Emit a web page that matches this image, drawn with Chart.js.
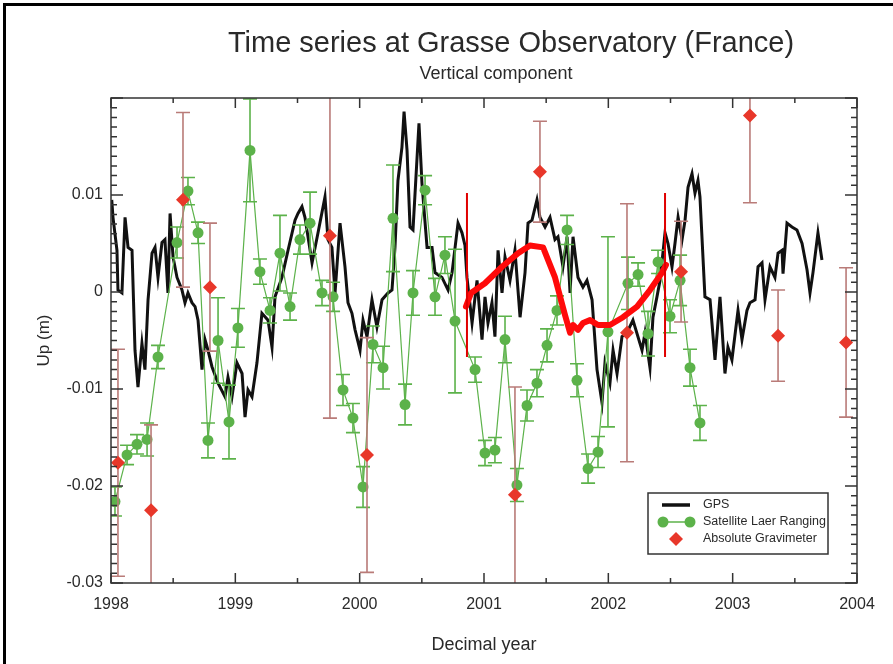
<!DOCTYPE html>
<html lang="en">
<head>
<meta charset="UTF-8">
<title>Time series at Grasse Observatory (France)</title>
<script src="https://cdn.jsdelivr.net/npm/chart.js"></script>
<style>
  html, body { margin: 0; padding: 0; background: #fff; }
  canvas { display: block; }
</style>
</head>
<body>
<canvas id="chart" width="893" height="664"></canvas>
<script>
// GPS vertical position (m) vs decimal year
const gpsYear = [
  1998.006, 1998.016, 1998.048, 1998.056, 1998.088, 1998.113, 1998.137, 1998.169, 1998.193, 1998.217,
  1998.249, 1998.273, 1998.298, 1998.330, 1998.354, 1998.378, 1998.410, 1998.434, 1998.458, 1998.475,
  1998.499, 1998.531, 1998.571, 1998.595, 1998.619, 1998.651, 1998.676, 1998.700, 1998.732, 1998.756,
  1998.780, 1998.812, 1998.861, 1998.917, 1998.941, 1998.973, 1999.013, 1999.054, 1999.078, 1999.102,
  1999.134, 1999.174, 1999.214, 1999.263, 1999.295, 1999.319, 1999.375, 1999.424, 1999.480, 1999.504,
  1999.536, 1999.560, 1999.617, 1999.665, 1999.721, 1999.745, 1999.777, 1999.802, 1999.842, 1999.882,
  1999.906, 1999.938, 1999.963, 2000.003, 2000.027, 2000.059, 2000.099, 2000.139, 2000.180, 2000.228,
  2000.260, 2000.284, 2000.308, 2000.340, 2000.357, 2000.381, 2000.405, 2000.429, 2000.477, 2000.501,
  2000.542, 2000.582, 2000.606, 2000.662, 2000.711, 2000.743, 2000.791, 2000.823, 2000.847, 2000.863,
  2000.904, 2000.944, 2000.984, 2001.008, 2001.032, 2001.064, 2001.088, 2001.113, 2001.145, 2001.169,
  2001.209, 2001.249, 2001.290, 2001.330, 2001.354, 2001.386, 2001.426, 2001.450, 2001.491, 2001.531,
  2001.571, 2001.595, 2001.635, 2001.668, 2001.692, 2001.716, 2001.756, 2001.796, 2001.828, 2001.869,
  2001.909, 2001.949, 2001.973, 2002.013, 2002.038, 2002.070, 2002.110, 2002.150, 2002.198, 2002.271,
  2002.295, 2002.335, 2002.359, 2002.391, 2002.416, 2002.456, 2002.480, 2002.512, 2002.536, 2002.561,
  2002.593, 2002.617, 2002.641, 2002.673, 2002.697, 2002.721, 2002.737, 2002.777, 2002.818, 2002.858,
  2002.898, 2002.938, 2002.962, 2002.994, 2003.043, 2003.075, 2003.115, 2003.139, 2003.180, 2003.204,
  2003.236, 2003.260, 2003.300, 2003.340, 2003.365, 2003.397, 2003.405, 2003.437, 2003.477, 2003.517,
  2003.558, 2003.598, 2003.622, 2003.646, 2003.686, 2003.718
];
const gpsUp = [
  0.0095, 0.0077, 0.0043, 0.0002, -0.0001, 0.0077, 0.0046, 0.0043, -0.0060, -0.0098,
  -0.0053, -0.0080, -0.0008, 0.0040, 0.0046, 0.0015, 0.0051, 0.0054, -0.0001, 0.0081,
  0.0036, 0.0015, 0.0002, -0.0011, -0.0001, -0.0011, -0.0015, -0.0029, -0.0080, -0.0049,
  -0.0060, -0.0077, -0.0094, -0.0108, -0.0088, -0.0108, -0.0073, -0.0084, -0.0129, -0.0101,
  -0.0108, -0.0073, -0.0022, -0.0029, -0.0057, -0.0005, 0.0015, 0.0043, 0.0074, 0.0081,
  0.0088, 0.0077, 0.0030, 0.0061, 0.0098, 0.0054, 0.0046, -0.0001, 0.0071, 0.0026,
  -0.0011, -0.0022, -0.0039, -0.0060, -0.0029, -0.0046, -0.0008, -0.0036, -0.0008, -0.0001,
  0.0002, 0.0046, 0.0115, 0.0149, 0.0186, 0.0146, 0.0067, 0.0064, 0.0174, 0.0112,
  0.0046, 0.0046, 0.0020, 0.0015, 0.0002, 0.0020, 0.0071, 0.0061, 0.0048, 0.0015,
  -0.0032, 0.0012, -0.0049, -0.0005, -0.0032, -0.0011, -0.0046, 0.0043, -0.0001, 0.0036,
  0.0012, 0.0043, -0.0026, 0.0020, 0.0071, 0.0074, 0.0095, 0.0077, 0.0067, 0.0077,
  0.0054, 0.0057, 0.0026, 0.0057, -0.0001, 0.0057, 0.0015, 0.0005, 0.0012, -0.0008,
  -0.0080, -0.0114, -0.0073, -0.0094, -0.0060, -0.0084, -0.0046, -0.0042, -0.0029, -0.0060,
  -0.0042, -0.0078, -0.0026, -0.0005, 0.0012, 0.0061, 0.0050, 0.0026, 0.0050, 0.0077,
  0.0054, 0.0074, 0.0108, 0.0122, 0.0102, 0.0115, 0.0098, -0.0005, -0.0008, -0.0070,
  -0.0005, -0.0084, -0.0057, -0.0070, -0.0019, -0.0049, -0.0019, -0.0011, -0.0008, 0.0026,
  0.0030, -0.0008, 0.0026, 0.0015, 0.0040, 0.0043, 0.0019, 0.0071, 0.0067, 0.0064,
  0.0050, 0.0023, -0.0001, 0.0020, 0.0061, 0.0033
];

// Satellite Laser Ranging
const slrYear = [
  1998.032, 1998.129, 1998.209, 1998.290, 1998.378, 1998.531, 1998.619, 1998.700, 1998.780, 1998.861,
  1998.949, 1999.021, 1999.118, 1999.198, 1999.279, 1999.359, 1999.440, 1999.520, 1999.601, 1999.697,
  1999.786, 1999.866, 1999.946, 2000.027, 2000.107, 2000.188, 2000.268, 2000.365, 2000.429, 2000.526,
  2000.606, 2000.686, 2000.767, 2000.928, 2001.008, 2001.088, 2001.169, 2001.265, 2001.346, 2001.426,
  2001.507, 2001.587, 2001.668, 2001.748, 2001.837, 2001.917, 2001.997, 2002.158, 2002.239, 2002.319,
  2002.400, 2002.496, 2002.577, 2002.657, 2002.737
];
const slrUp = [
  -0.0216, -0.0168, -0.0157, -0.0152, -0.0067, 0.0051, 0.0104, 0.0061, -0.0153, -0.0050,
  -0.0134, -0.0037, 0.0146, 0.0021, -0.0019, 0.0040, -0.0015, 0.0054, 0.0071, -0.0001,
  -0.0005, -0.0101, -0.0130, -0.0201, -0.0054, -0.0078, 0.0076, -0.0116, -0.0001, 0.0105,
  -0.0005, 0.0038, -0.0030, -0.0080, -0.0166, -0.0163, -0.0049, -0.0199, -0.0117, -0.0094,
  -0.0055, -0.0019, 0.0064, -0.0091, -0.0182, -0.0165, -0.0041, 0.0009, 0.0018, -0.0043,
  0.0031, -0.0025, 0.0012, -0.0078, -0.0135
];
const slrErr = [
  0.0015, 0.0010, 0.0010, 0.0017, 0.0012, 0.0016, 0.0014, 0.0011, 0.0018, 0.0044,
  0.0038, 0.0020, 0.0053, 0.0013, 0.0013, 0.0039, 0.0014, 0.0015, 0.0032, 0.0013,
  0.0015, 0.0016, 0.0015, 0.0021, 0.0019, 0.0022, 0.0055, 0.0021, 0.0023, 0.0015,
  0.0019, 0.0019, 0.0074, 0.0013, 0.0013, 0.0013, 0.0024, 0.0017, 0.0016, 0.0014,
  0.0017, 0.0015, 0.0015, 0.0017, 0.0015, 0.0016, 0.0098, 0.0027, 0.0012, 0.0023,
  0.0012, 0.0017, 0.0026, 0.0019, 0.0018
];

// Absolute gravimeter
const agYear = [1998.056, 1998.322, 1998.579, 1998.796, 1999.761, 2000.059, 2001.249, 2001.450, 2002.150, 2002.585, 2003.139, 2003.365, 2003.912];
const agUp   = [-0.0176, -0.0225, 0.0095, 0.0005, 0.0058, -0.0168, -0.0209, 0.0124, -0.0042, 0.0021, 0.0182, -0.0045, -0.0052];
const agErr  = [0.0117, 0.0088, 0.0090, 0.0066, 0.0188, 0.0121, 0.0111, 0.0052, 0.0133, 0.0052, 0.0090, 0.0047, 0.0077];

// thick red curve and its two bounding markers
const modelYear = [2000.855, 2000.896, 2001.008, 2001.145, 2001.274, 2001.370, 2001.475, 2001.571, 2001.652, 2001.692, 2001.716,
                   2001.756, 2001.796, 2001.853, 2001.917, 2002.013, 2002.118, 2002.231, 2002.335, 2002.432, 2002.464];
const modelUp   = [-0.0015, -0.0001, 0.0009, 0.0026, 0.0040, 0.0048, 0.0046, 0.0015, -0.0024, -0.0042, -0.0034,
                   -0.0039, -0.0032, -0.0029, -0.0034, -0.0034, -0.0026, -0.0015, 0.0002, 0.0020, 0.0028];
const markYear = [2000.863, 2002.456];
const markRange = [0.0102, -0.0067];

const xTicks = [1998, 1999, 2000, 2001, 2002, 2003, 2004];
const xTickLabels = ['1998', '1999', '2000', '2001', '2002', '2003', '2004'];
const yTicks = [-0.03, -0.02, -0.01, 0, 0.01, 0.02];
const yTickLabels = ['-0.03', '-0.02', '-0.01', '0', '0.01', ''];

const FONT = '"Liberation Sans", Arial, sans-serif';
const TEXT = '#2a2a2a';
const GREEN = '#5cb24a';
const RED = '#e8372a';
const AG_BAR = '#b97b78';

const pts = (xs, ys) => xs.map((x, i) => ({ x: x, y: ys[i] }));

// error bars, drawn just under their own dataset
const errorBars = {
  id: 'errorBars',
  beforeDatasetDraw(chart, args) {
    const ds = chart.data.datasets[args.index];
    if (!ds.errors) return;
    const { ctx, chartArea: a, scales: { x, y } } = chart;
    ctx.save();
    ctx.beginPath();
    ctx.rect(a.left, a.top, a.right - a.left, a.bottom - a.top);
    ctx.clip();
    ctx.strokeStyle = ds.errorColor;
    ctx.lineWidth = 1.6;
    ctx.beginPath();
    ds.data.forEach((p, i) => {
      const px = x.getPixelForValue(p.x);
      const t = y.getPixelForValue(p.y + ds.errors[i]);
      const b = y.getPixelForValue(p.y - ds.errors[i]);
      ctx.moveTo(px, t); ctx.lineTo(px, b);
      ctx.moveTo(px - 7, t); ctx.lineTo(px + 7, t);
      ctx.moveTo(px - 7, b); ctx.lineTo(px + 7, b);
    });
    ctx.stroke();
    ctx.restore();
  }
};

// box with inward ticks on all four sides
const frame = {
  id: 'frame',
  afterDatasetsDraw(chart) {
    const { ctx, chartArea: a, scales: { x, y } } = chart;
    ctx.save();
    ctx.strokeStyle = '#333';
    ctx.lineWidth = 1.5;
    ctx.strokeRect(a.left, a.top, a.right - a.left, a.bottom - a.top);
    ctx.beginPath();
    for (let k = 0; k <= 12; k++) {
      const px = x.getPixelForValue(x.min + k * 0.5);
      const len = k % 2 === 0 ? 10 : 5;
      ctx.moveTo(px, a.bottom); ctx.lineTo(px, a.bottom - len);
      ctx.moveTo(px, a.top); ctx.lineTo(px, a.top + len);
    }
    for (let k = 0; k <= 50; k++) {
      const py = y.getPixelForValue(y.min + k * 0.001);
      const len = k % 10 === 0 ? 12 : 6;
      ctx.moveTo(a.left, py); ctx.lineTo(a.left + len, py);
      ctx.moveTo(a.right, py); ctx.lineTo(a.right - len, py);
    }
    ctx.stroke();
    ctx.restore();
  }
};

// titles, legend box, page border
const decor = {
  id: 'decor',
  afterDraw(chart) {
    const ctx = chart.ctx;
    const sets = chart.data.datasets;
    ctx.save();
    ctx.fillStyle = '#000';
    ctx.fillRect(3, 3, 3, 661);
    ctx.fillRect(3, 3, 890, 3);

    ctx.fillStyle = TEXT;
    ctx.textAlign = 'center';
    ctx.textBaseline = 'alphabetic';
    ctx.font = '29px ' + FONT;
    ctx.fillText('Time series at Grasse Observatory (France)', 511, 52);
    ctx.font = '18px ' + FONT;
    ctx.fillText('Vertical component', 496, 79);

    // legend
    const lx = 648, ly = 493, lw = 180, lh = 61;
    ctx.strokeStyle = '#333';
    ctx.lineWidth = 1.5;
    ctx.strokeRect(lx, ly, lw, lh);
    ctx.lineWidth = 3.5;
    ctx.strokeStyle = sets[0].borderColor;
    ctx.beginPath(); ctx.moveTo(662, 505); ctx.lineTo(690, 505); ctx.stroke();
    ctx.lineWidth = 1.5;
    ctx.strokeStyle = sets[1].borderColor;
    ctx.beginPath(); ctx.moveTo(663, 522); ctx.lineTo(690, 522); ctx.stroke();
    ctx.fillStyle = sets[1].pointBackgroundColor;
    [663, 690].forEach(cx => { ctx.beginPath(); ctx.arc(cx, 522, 5.5, 0, Math.PI * 2); ctx.fill(); });
    ctx.fillStyle = sets[2].pointBackgroundColor;
    ctx.beginPath();
    ctx.moveTo(676, 532); ctx.lineTo(683, 539); ctx.lineTo(676, 546); ctx.lineTo(669, 539);
    ctx.closePath(); ctx.fill();

    ctx.fillStyle = TEXT;
    ctx.textAlign = 'left';
    ctx.textBaseline = 'middle';
    ctx.font = '12.5px ' + FONT;
    ctx.fillText('GPS', 703, 505);
    ctx.fillText('Satellite Laer Ranging', 703, 522);
    ctx.fillText('Absolute Gravimeter', 703, 539);
    ctx.restore();
  }
};

new Chart(document.getElementById('chart'), {
  type: 'line',
  data: {
    datasets: [
      {
        label: 'GPS',
        data: pts(gpsYear, gpsUp),
        borderColor: '#111',
        borderWidth: 3,
        pointRadius: 0,
        tension: 0,
        order: 5
      },
      {
        label: 'Satellite Laer Ranging',
        data: pts(slrYear, slrUp),
        borderColor: GREEN,
        borderWidth: 1.2,
        pointRadius: 5.5,
        pointBackgroundColor: GREEN,
        pointBorderWidth: 0,
        errors: slrErr,
        errorColor: GREEN,
        order: 4
      },
      {
        label: 'Absolute Gravimeter',
        data: pts(agYear, agUp),
        showLine: false,
        pointStyle: 'rectRot',
        pointRadius: 7,
        pointBackgroundColor: RED,
        pointBorderWidth: 0,
        errors: agErr,
        errorColor: AG_BAR,
        order: 3
      },
      {
        label: 'model',
        data: pts(modelYear, modelUp),
        borderColor: '#ff0a0a',
        borderWidth: 6,
        pointRadius: 0,
        borderJoinStyle: 'round',
        borderCapStyle: 'round',
        order: 2
      },
      ...markYear.map(yr => ({
        label: 'limit',
        data: markRange.map(v => ({ x: yr, y: v })),
        borderColor: '#e00000',
        borderWidth: 2,
        pointRadius: 0,
        order: 1
      }))
    ]
  },
  options: {
    responsive: false,
    devicePixelRatio: 1,
    animation: false,
    layout: { padding: { left: 0, top: 98, right: 36, bottom: 0 } },
    plugins: { legend: { display: false }, tooltip: { enabled: false } },
    scales: {
      x: {
        type: 'linear',
        min: 1998,
        max: 2004,
        afterFit: s => { s.height = 81; },
        afterBuildTicks: s => { s.ticks = xTicks.map(v => ({ value: v })); },
        grid: { display: false, drawTicks: false },
        border: { display: false },
        ticks: {
          autoSkip: false,
          maxRotation: 0,
          padding: 12,
          color: TEXT,
          font: { family: FONT, size: 16 },
          callback: v => xTickLabels[xTicks.indexOf(v)]
        },
        title: {
          display: true,
          text: 'Decimal year',
          color: TEXT,
          font: { family: FONT, size: 18 },
          padding: { top: 0, bottom: 8 }
        }
      },
      y: {
        type: 'linear',
        min: -0.03,
        max: 0.02,
        afterFit: s => { s.width = 111; },
        afterBuildTicks: s => { s.ticks = yTicks.map(v => ({ value: v })); },
        grid: { display: false, drawTicks: false },
        border: { display: false },
        ticks: {
          autoSkip: false,
          padding: 8,
          color: TEXT,
          font: { family: FONT, size: 16 },
          callback: v => {
            const i = yTicks.findIndex(t => Math.abs(t - v) < 1e-9);
            return i < 0 ? '' : yTickLabels[i];
          }
        },
        title: {
          display: true,
          text: 'Up (m)',
          color: TEXT,
          font: { family: FONT, size: 17 },
          padding: { top: 34, bottom: 0 }
        }
      }
    }
  },
  plugins: [errorBars, frame, decor]
});
</script>
</body>
</html>
